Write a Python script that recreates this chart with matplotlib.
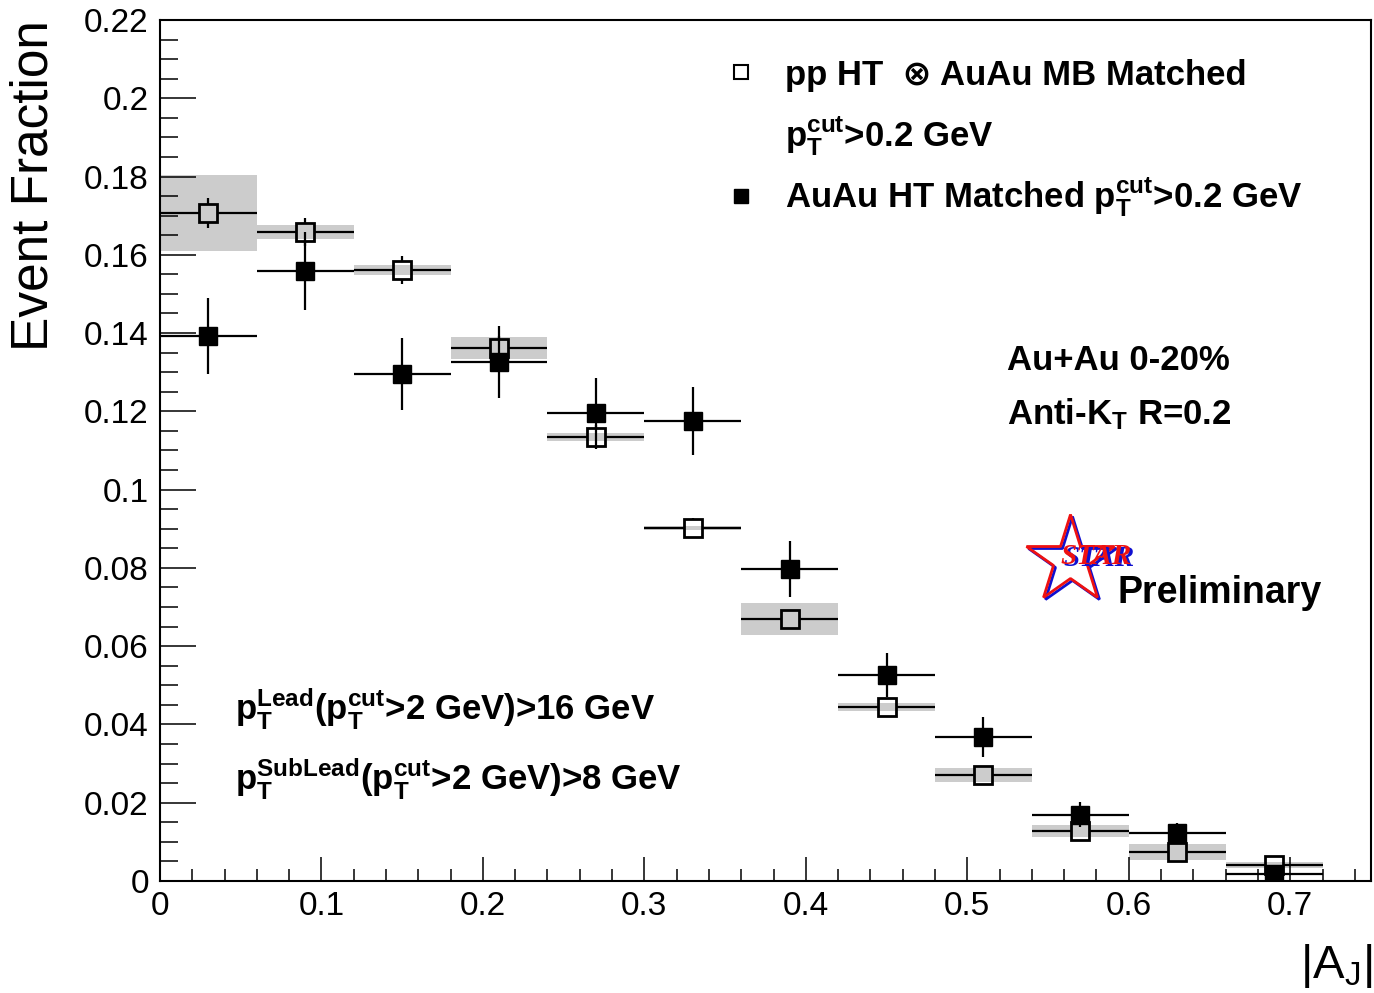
import matplotlib
matplotlib.use('Agg')
import matplotlib.pyplot as plt
import matplotlib.transforms as mtransforms
from matplotlib.ticker import MultipleLocator, FuncFormatter
import numpy as np

plt.rcParams['font.family'] = ['Liberation Sans', 'DejaVu Sans']
plt.rcParams['mathtext.fontset'] = 'custom'
plt.rcParams['mathtext.rm'] = 'Liberation Sans'
plt.rcParams['mathtext.bf'] = 'Liberation Sans:bold'
plt.rcParams['mathtext.it'] = 'Liberation Sans:italic'

# |A_J| bins (width 0.06)
aj_centers = [0.03, 0.09, 0.15, 0.21, 0.27, 0.33, 0.39, 0.45, 0.51, 0.57, 0.63, 0.69]
bin_half = 0.03

# pp HT (x) AuAu MB, matched
pp_y    = [0.1707, 0.1658, 0.1561, 0.1362, 0.1134, 0.0902, 0.0669, 0.0445, 0.0271, 0.0128, 0.0074, 0.0041]
pp_stat = [0.0038, 0.0036, 0.0035, 0.0030, 0.0030, 0.0025, 0.0020, 0.0015, 0.0015, 0.0010, 0.0010, 0.0010]
pp_sys  = [0.0098, 0.0017, 0.0013, 0.0027, 0.0010, 0.0005, 0.0041, 0.0010, 0.0018, 0.0015, 0.0020, 0.0008]

# AuAu HT, matched
auau_y    = [0.1393, 0.1559, 0.1295, 0.1326, 0.1196, 0.1175, 0.0797, 0.0526, 0.0368, 0.0169, 0.0123, 0.0018]
auau_stat = [0.0097, 0.0100, 0.0092, 0.0093, 0.0090, 0.0087, 0.0072, 0.0056, 0.0050, 0.0032, 0.0026, 0.0010]

x = np.array(aj_centers)
pp_y = np.array(pp_y)
pp_stat = np.array(pp_stat)
pp_sys = np.array(pp_sys)

fig = plt.figure(figsize=(13.74, 9.93), dpi=100)
ax = fig.add_axes([0.1164, 0.1128, 0.8814, 0.8671])
ax.set_xlim(0, 0.75)
ax.set_ylim(0, 0.22)

# systematic boxes
ax.bar(x, 2 * pp_sys, width=2 * bin_half, bottom=pp_y - pp_sys,
       color='#cccccc', linewidth=0, zorder=1)

# open markers: error lines stop at the marker edge
gx, gy = 0.0056, 0.0023
lw = 1.6
ax.hlines(pp_y, x - bin_half, x - gx, color='k', lw=lw, zorder=2)
ax.hlines(pp_y, x + gx, x + bin_half, color='k', lw=lw, zorder=2)
big = pp_stat > gy
ax.vlines(x[big], pp_y[big] + gy, pp_y[big] + pp_stat[big], color='k', lw=lw, zorder=2)
ax.vlines(x[big], pp_y[big] - pp_stat[big], pp_y[big] - gy, color='k', lw=lw, zorder=2)
ax.plot(x, pp_y, 's', mfc='none', mec='k', ms=12.5, mew=2, zorder=3)

ax.errorbar(x, auau_y, xerr=bin_half, yerr=auau_stat, fmt='s', color='k',
            ms=13, elinewidth=lw, capsize=0, zorder=4)

# axes styling
for s in ax.spines.values():
    s.set_linewidth(1.5)
ax.xaxis.set_major_locator(MultipleLocator(0.1))
ax.xaxis.set_minor_locator(MultipleLocator(0.02))
ax.yaxis.set_major_locator(MultipleLocator(0.02))
ax.yaxis.set_minor_locator(MultipleLocator(0.005))
fmt = FuncFormatter(lambda v, p: '%g' % round(v, 3))
ax.xaxis.set_major_formatter(fmt)
ax.yaxis.set_major_formatter(fmt)
ax.tick_params(which='both', direction='in', top=False, right=False, width=1.1,
               labelsize=24)
ax.tick_params(axis='y', which='major', length=26, pad=8)
ax.tick_params(axis='y', which='minor', length=13)
ax.tick_params(axis='x', which='major', length=17, pad=7)
ax.tick_params(axis='x', which='minor', length=9)

fig.text(0.0245, 0.9799, 'Event Fraction', rotation=90, ha='center', va='top', fontsize=37)
fig.text(0.9985, 0.0151, r'|A$_{\mathregular{J}}$|', ha='right', va='baseline', fontsize=34)

# legend
T = ax.transAxes
ax.plot([0.4802], [0.9396], 's', mfc='white', mec='k', ms=9.5, mew=1.5, transform=T, clip_on=False)
ax.plot([0.4802], [0.7956], 's', color='k', ms=9.5, transform=T, clip_on=False)
bold = dict(fontsize=25, fontweight='bold', transform=T, va='baseline', ha='left')
ax.text(0.5161, 0.9245, 'pp HT  \u2297 AuAu MB Matched', **bold)
ax.text(0.5161, 0.8525, r'$\mathbf{p}_\mathbf{T}^\mathbf{cut}$>0.2 GeV', **bold)
ax.text(0.5161, 0.7817, r'AuAu HT Matched $\mathbf{p}_\mathbf{T}^\mathbf{cut}$>0.2 GeV', **bold)

ax.text(0.6994, 0.5935, 'Au+Au 0-20%', **bold)
ax.text(0.6994, 0.5308, r'Anti-K$_\mathbf{T}$ R=0.2', **bold)

ax.text(0.0619, 0.187, r'$\mathbf{p}_\mathbf{T}^\mathbf{Lead}$($\mathbf{p}_\mathbf{T}^\mathbf{cut}$>2 GeV)>16 GeV', **bold)
ax.text(0.0619, 0.1057, r'$\mathbf{p}_\mathbf{T}^\mathbf{SubLead}$($\mathbf{p}_\mathbf{T}^\mathbf{cut}$>2 GeV)>8 GeV', **bold)

# STAR preliminary logo
shadow = mtransforms.offset_copy(T, fig=fig, x=1.5, y=-1.5, units='points')
ax.plot([0.7514], [0.3728], '*', ms=66, mfc='none', mec='#1010d0', mew=2, transform=shadow, clip_on=False)
ax.plot([0.7514], [0.3728], '*', ms=66, mfc='none', mec='#ee1111', mew=2, transform=T, clip_on=False)
star_txt = dict(fontsize=21, fontweight='bold', fontstyle='italic', family='Liberation Serif',
                va='baseline', ha='left')
ax.text(0.7440, 0.3680, 'STAR', color='#1010d0', transform=shadow, **star_txt)
ax.text(0.7440, 0.3680, 'STAR', color='#ee1111', transform=T, **star_txt)
ax.text(0.7911, 0.3229, 'Preliminary', **dict(bold, fontsize=27))

fig.savefig('out.png', dpi=100)
